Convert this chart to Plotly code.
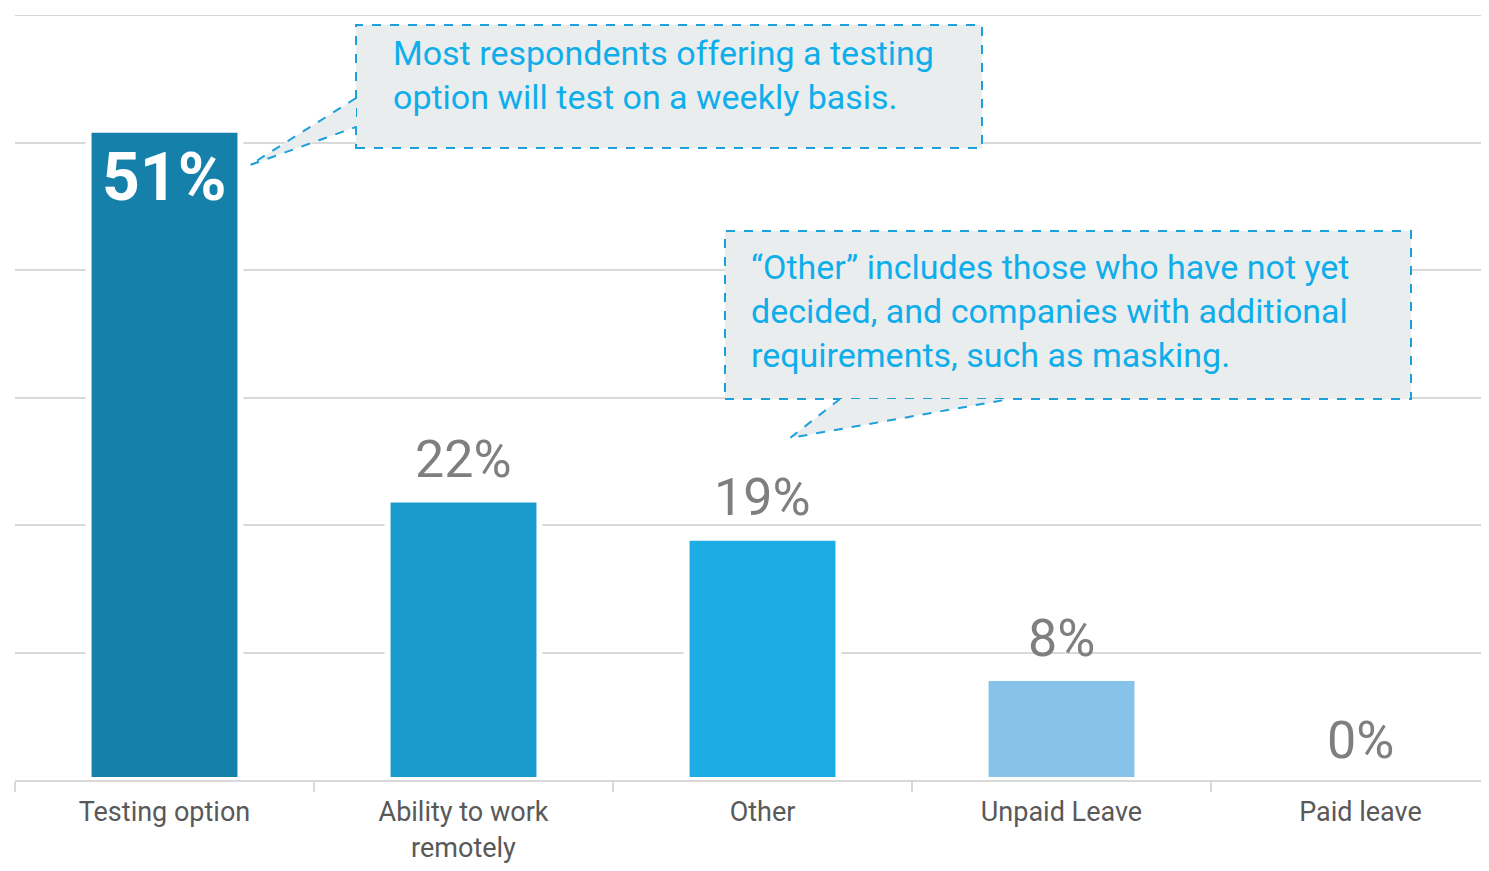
import plotly.graph_objects as go

categories = ["Testing option", "Ability to work<br>remotely", "Other", "Unpaid Leave", "Paid leave"]
values = [51, 22, 19, 8, 0]
labels = ["51%", "22%", "19%", "8%", "0%"]
bar_colors = ["#1581AB", "#199BCB", "#1DACE3", "#87C3E9", "#87C3E9"]

note_testing = "Most respondents offering a testing<br>option will test on a weekly basis."
note_other = "\u201cOther\u201d includes those who have not yet<br>decided, and companies with additional<br>requirements, such as masking."

# the page puts the figure 8px in from the top-left corner
OFF = 8
W, H = 1489 - 2 * OFF, 871 - 2 * OFF
# plot area in page pixels
PL, PR, PT, PB = 15, 1481, 15, 780
CAT_W = 299  # pixels per category in the original

# page pixel -> paper coords, only for the callout boxes
def px(x):
    return (x - PL) / (PR - PL)


def py(y):
    return (PB - y) / (PB - PT)


fig = go.Figure()
fig.add_trace(go.Bar(
    x=categories, y=values,
    marker=dict(color=bar_colors, line=dict(color="white", width=6)),
    width=0.508, hoverinfo="skip",
))

# value labels
for i, (c, v, t) in enumerate(zip(categories, values, labels)):
    if i == 0:
        fig.add_annotation(x=c, y=v, text="<b>%s</b>" % t, showarrow=False,
                           yanchor="middle", yshift=-48,
                           font=dict(family="Roboto", size=66, color="white"))
    else:
        fig.add_annotation(x=c, y=v, text=t, showarrow=False,
                           yanchor="middle", yshift=40,
                           font=dict(family="Roboto", size=52, color="#7F7F7F"))

box_fill = "#E9EDEE"
box_line = dict(color="#1CA0D9", width=2, dash="dash")
grid = "#D9D9D9"
shapes = [
    # top gridline (plotly leaves out the one on the edge)
    dict(type="line", xref="paper", yref="y", x0=0, x1=1, y0=60, y1=60,
         line=dict(color=grid, width=2), layer="below"),
    dict(type="rect", xref="paper", yref="paper", x0=px(356), x1=px(982), y0=py(148), y1=py(25),
         fillcolor=box_fill, line=box_line),
    dict(type="path", xref="paper", yref="paper",
         path="M %f,%f L %f,%f L %f,%f" % (px(356), py(98), px(250), py(165), px(356), py(127)),
         fillcolor=box_fill, line=box_line),
    dict(type="rect", xref="paper", yref="paper", x0=px(725), x1=px(1411), y0=py(399), y1=py(231),
         fillcolor=box_fill, line=box_line),
    dict(type="path", xref="paper", yref="paper",
         path="M %f,%f L %f,%f L %f,%f" % (px(840), py(399), px(790), py(438), px(1010), py(399)),
         fillcolor=box_fill, line=box_line),
]
fig.update_layout(shapes=shapes)

note_font = dict(family="Roboto", size=34, color="#10ADEB")
fig.add_annotation(xref="paper", yref="paper", x=px(391), y=py(75), text=note_testing,
                   showarrow=False, xanchor="left", yanchor="middle", align="left", font=note_font)
fig.add_annotation(xref="paper", yref="paper", x=px(749), y=py(311), text=note_other,
                   showarrow=False, xanchor="left", yanchor="middle", align="left", font=note_font)

fig.update_layout(
    width=W, height=H,
    margin=dict(l=PL - OFF, r=W - (PR - OFF), t=PT - OFF, b=H - (PB - OFF)),
    paper_bgcolor="white", plot_bgcolor="white",
    showlegend=False,
    font=dict(family="Roboto", color="#595959"),
)
fig.update_xaxes(
    range=[-0.5, -0.5 + (PR - PL) / CAT_W],
    automargin=False,
    showline=True, linecolor=grid, linewidth=2,
    ticks="outside", tickson="boundaries", ticklen=10, tickcolor=grid, tickwidth=2,
    tickfont=dict(family="Roboto", size=27, color="#595959"),
    ticklabelstandoff=7,
    showgrid=False,
)
fig.update_yaxes(
    range=[0, 60], dtick=10, showticklabels=False,
    automargin=False,
    showgrid=True, gridcolor=grid, gridwidth=2,
    zeroline=False,
)

fig.write_html("out.html")
